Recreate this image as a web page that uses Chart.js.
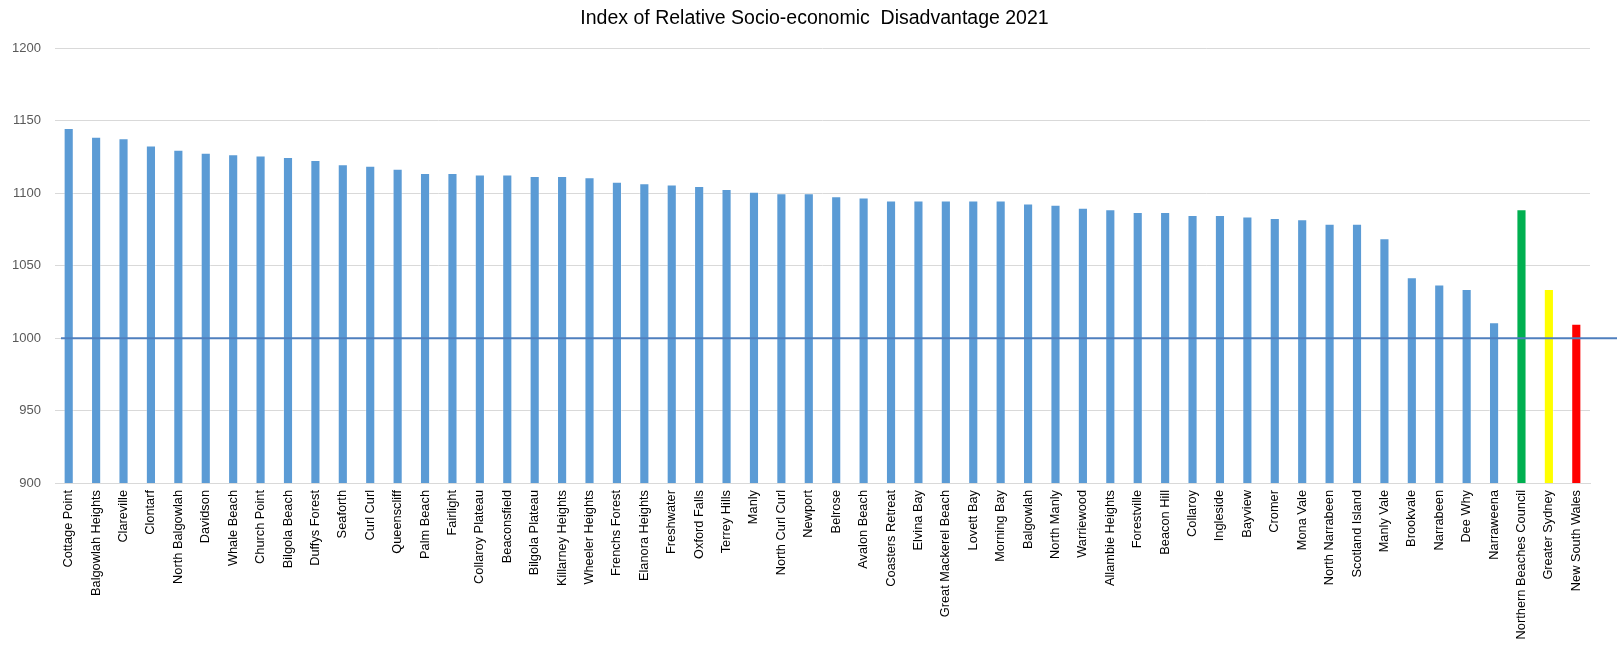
<!DOCTYPE html>
<html>
<head>
<meta charset="utf-8">
<script src="https://cdn.jsdelivr.net/npm/chart.js@4.4.1/dist/chart.umd.min.js"></script>
<style>
  html, body { margin: 0; padding: 0; background: #fff; }
  #wrap { width: 1617px; height: 645px; }
</style>
</head>
<body>
<div id="wrap"><canvas id="irsdChart"></canvas></div>
<script>
// suburbs, then the council / region / state comparisons
var suburbs = ["Cottage Point", "Balgowlah Heights", "Clareville", "Clontarf", "North Balgowlah", "Davidson",
    "Whale Beach", "Church Point", "Bilgola Beach", "Duffys Forest", "Seaforth", "Curl Curl", "Queenscliff",
    "Palm Beach", "Fairlight", "Collaroy Plateau", "Beaconsfield", "Bilgola Plateau", "Killarney Heights",
    "Wheeler Heights", "Frenchs Forest", "Elanora Heights", "Freshwater", "Oxford Falls", "Terrey Hills",
    "Manly", "North Curl Curl", "Newport", "Belrose", "Avalon Beach", "Coasters Retreat", "Elvina Bay",
    "Great Mackerel Beach", "Lovett Bay", "Morning Bay", "Balgowlah", "North Manly", "Warriewood",
    "Allambie Heights", "Forestville", "Beacon Hill", "Collaroy", "Ingleside", "Bayview", "Cromer",
    "Mona Vale", "North Narrabeen", "Scotland Island", "Manly Vale", "Brookvale", "Narrabeen", "Dee Why",
    "Narraweena", "Northern Beaches Council", "Greater Sydney", "New South Wales"];

var scores = [1145, 1139, 1138, 1133, 1130, 1128, 1127, 1126, 1125, 1123, 1120, 1119, 1117,
    1114, 1114, 1113, 1113, 1112, 1112, 1111, 1108, 1107, 1106, 1105, 1103,
    1101, 1100, 1100, 1098, 1097, 1095, 1095, 1095, 1095, 1095, 1093, 1092, 1090,
    1089, 1087, 1087, 1085, 1085, 1084, 1083, 1082, 1079, 1079, 1069, 1042, 1037, 1034,
    1011, 1089, 1034, 1010];

var yTicks = [900, 950, 1000, 1050, 1100, 1150, 1200];
var baseline = 1000;

var barColours = suburbs.map(function (s) {
    if (s == "Northern Beaches Council") return '#00b050';
    if (s == "Greater Sydney") return '#ffff00';
    if (s == "New South Wales") return '#ff0000';
    return '#5b9bd5';
});

// horizontal reference line at the national average
var baselinePlugin = {
    id: 'baseline',
    afterDatasetsDraw: function (chart) {
        var y = chart.scales.y.getPixelForValue(baseline);
        var c = chart.ctx;
        c.save();
        c.strokeStyle = '#4f7fbe';
        c.lineWidth = 2;
        c.beginPath();
        c.moveTo(chart.chartArea.left + 6, y);
        c.lineTo(chart.width, y);
        c.stroke();
        c.restore();
    }
};

var ctx = document.getElementById('irsdChart').getContext('2d');
var irsdChart = new Chart(ctx, {
    type: 'bar',
    data: {
        labels: suburbs,
        datasets: [{
            label: 'IRSD 2021',
            data: scores,
            backgroundColor: barColours,
            borderColor: 'rgba(255,255,255,0.35)',
            borderWidth: 1,
            categoryPercentage: 1.0,
            barPercentage: 0.37
        }]
    },
    plugins: [baselinePlugin],
    options: {
        responsive: true,
        maintainAspectRatio: false,
        animation: false,
        layout: { padding: { left: 12, right: 0, top: 0, bottom: 0 } },
        plugins: {
            legend: { display: false },
            tooltip: { enabled: false },
            title: {
                display: true,
                text: 'Index of Relative Socio-economic  Disadvantage 2021',
                color: '#000',
                font: { family: 'Liberation Sans', size: 19.5, weight: 'normal' },
                padding: { top: 7, bottom: 18 }
            }
        },
        scales: {
            x: {
                grid: { display: false, drawTicks: false },
                border: { color: '#d9d9d9', width: 1 },
                ticks: {
                    autoSkip: false,
                    maxRotation: 90,
                    minRotation: 90,
                    padding: 7,
                    color: '#000',
                    font: { family: 'Liberation Sans', size: 12.8 }
                },
                afterFit: function (axis) { axis.height = 162; }
            },
            y: {
                min: 900,
                max: 1200,
                afterBuildTicks: function (axis) {
                    axis.ticks = yTicks.map(function (v) { return { value: v }; });
                },
                grid: { color: '#d9d9d9', lineWidth: 1, drawTicks: false },
                border: { display: false },
                ticks: {
                    padding: 14,
                    color: '#595959',
                    font: { family: 'Liberation Sans', size: 13 },
                    callback: function (v) { return String(v); }
                },
                afterFit: function (axis) { axis.width = 43; }
            },
            // empty strip on the right so the plot stops short of the edge
            yRight: {
                position: 'right',
                grid: { display: false, drawTicks: false },
                border: { display: false },
                ticks: { display: false },
                afterFit: function (axis) { axis.width = 27; }
            }
        }
    }
});
</script>
</body>
</html>
